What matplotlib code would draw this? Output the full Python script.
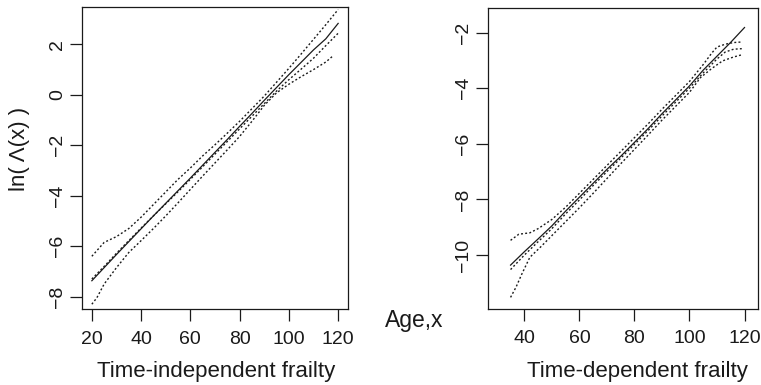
import numpy as np
import matplotlib
matplotlib.use("Agg")
import matplotlib.pyplot as plt

plt.rcParams['font.family'] = ['Liberation Sans', 'DejaVu Sans']

# ── Left panel: time-independent frailty ──────────────────────────
age_l = [20, 25, 30, 35, 40, 45, 50, 55, 60, 65, 70, 75, 80, 85, 90, 95, 100, 105, 110, 115, 120]
est_l = [-7.37, -6.85, -6.33, -5.82, -5.31, -4.80, -4.30, -3.80, -3.30, -2.79, -2.28,
         -1.77, -1.25, -0.74, -0.22, 0.29, 0.80, 1.29, 1.78, 2.22, 2.83]
upper_l = [-6.40, -5.85, -5.62, -5.30, -4.85, -4.35, -3.85, -3.35, -2.90, -2.42, -1.98,
           -1.52, -1.05, -0.55, -0.05, 0.50, 1.05, 1.62, 2.20, 2.78, 3.38]
inner_l = [-7.30, -6.80, -6.28, -5.78, -5.28, -4.80, -4.32, -3.84, -3.35, -2.85, -2.35,
           -1.85, -1.35, -0.85, -0.35, 0.15, 0.60, 1.02, 1.45, 1.95, 2.44]
age_lo_l = [20, 22, 25, 30, 35, 40, 45, 50, 55, 60, 65, 70, 75, 80, 85, 90, 95, 100, 105, 110, 115, 118]
lower_l = [-8.30, -8.05, -7.50, -6.85, -6.25, -5.78, -5.30, -4.80, -4.28, -3.75, -3.22, -2.70,
           -2.18, -1.65, -1.05, -0.42, 0.08, 0.42, 0.72, 1.00, 1.30, 1.55]

# ── Right panel: time-dependent frailty ───────────────────────────
age_r = [35, 40, 45, 50, 55, 60, 65, 70, 75, 80, 85, 90, 95, 100, 105, 110, 115, 120]
est_r = [-10.36, -9.88, -9.42, -8.95, -8.42, -7.92, -7.42, -6.92, -6.45, -5.95, -5.45,
         -4.92, -4.42, -3.92, -3.35, -2.85, -2.35, -1.82]
age_up_r = [35, 38, 42, 45, 50, 55, 60, 65, 70, 75, 80, 85, 90, 95, 100, 105, 108, 110, 113, 116, 119]
upper_r = [-9.47, -9.25, -9.20, -9.05, -8.72, -8.28, -7.78, -7.28, -6.78, -6.28, -5.78,
           -5.28, -4.76, -4.26, -3.76, -3.15, -2.75, -2.52, -2.42, -2.36, -2.34]
age_in_r = [35, 40, 45, 50, 55, 60, 65, 70, 75, 80, 85, 90, 95, 100, 105, 110, 113, 116, 119]
inner_r = [-10.52, -10.00, -9.52, -9.05, -8.52, -8.02, -7.50, -7.00, -6.52, -6.02, -5.52,
           -5.00, -4.50, -4.00, -3.45, -2.95, -2.70, -2.60, -2.58]
age_lo_r = [35, 37, 39, 42, 46, 50, 55, 60, 65, 70, 75, 80, 85, 90, 95, 100, 104, 108, 112, 116, 119]
lower_r = [-11.52, -11.15, -10.70, -10.08, -9.70, -9.30, -8.80, -8.30, -7.78, -7.25, -6.72,
           -6.20, -5.68, -5.15, -4.65, -4.15, -3.62, -3.30, -3.02, -2.88, -2.80]

ink = '#1a1a1a'
dot = (0, (1.4, 1.6))

fig = plt.figure(figsize=(7.61, 3.85), dpi=100)
ax1 = fig.add_axes([82/761, 1 - 309/385, 266/761, 302/385])
ax2 = fig.add_axes([488/761, 1 - 308.5/385, 270/761, 301/385])

ax1.plot(age_l, est_l, color=ink, lw=0.9)
ax1.plot(age_l, upper_l, color=ink, lw=1.0, ls=dot)
ax1.plot(age_l, inner_l, color=ink, lw=1.0, ls=dot)
ax1.plot(age_lo_l, lower_l, color=ink, lw=1.0, ls=dot)
ax1.set_xlim(16, 124)
ax1.set_ylim(-8.49, 3.48)
ax1.set_xticks([20, 40, 60, 80, 100, 120])
ax1.set_yticks([-8, -6, -4, -2, 0, 2])

ax2.plot(age_r, est_r, color=ink, lw=0.9)
ax2.plot(age_up_r, upper_r, color=ink, lw=1.0, ls=dot)
ax2.plot(age_in_r, inner_r, color=ink, lw=1.0, ls=dot)
ax2.plot(age_lo_r, lower_r, color=ink, lw=1.0, ls=dot)
ax2.set_xlim(26.8, 124.9)
ax2.set_ylim(-11.92, -1.10)
ax2.set_xticks([40, 60, 80, 100, 120])
ax2.set_yticks([-10, -8, -6, -4, -2])

for ax in (ax1, ax2):
    for s in ax.spines.values():
        s.set_color(ink)
        s.set_linewidth(0.9)
    ax.tick_params(direction='out', length=8.5, width=0.9, color=ink,
                   labelcolor=ink, labelsize=14)
    ax.tick_params(axis='x', pad=7)
    ax.tick_params(axis='y', pad=3)
    for lab in ax.get_yticklabels():
        lab.set_rotation(90)
        lab.set_verticalalignment('center')

fig.text(216/761, 1 - 371/385, "Time-independent frailty", ha='center', va='center',
         fontsize=16, color=ink)
fig.text(637/761, 1 - 371/385, "Time-dependent frailty", ha='center', va='center',
         fontsize=16, color=ink)
fig.text(414/761, 1 - 320/385, "Age,x", ha='center', va='center', fontsize=16.5, color=ink)
fig.text(19/761, 1 - 149/385, "ln( Λ(x) )", ha='center', va='center', rotation=90,
         fontsize=16, color=ink)

fig.savefig("out.png", dpi=100)
